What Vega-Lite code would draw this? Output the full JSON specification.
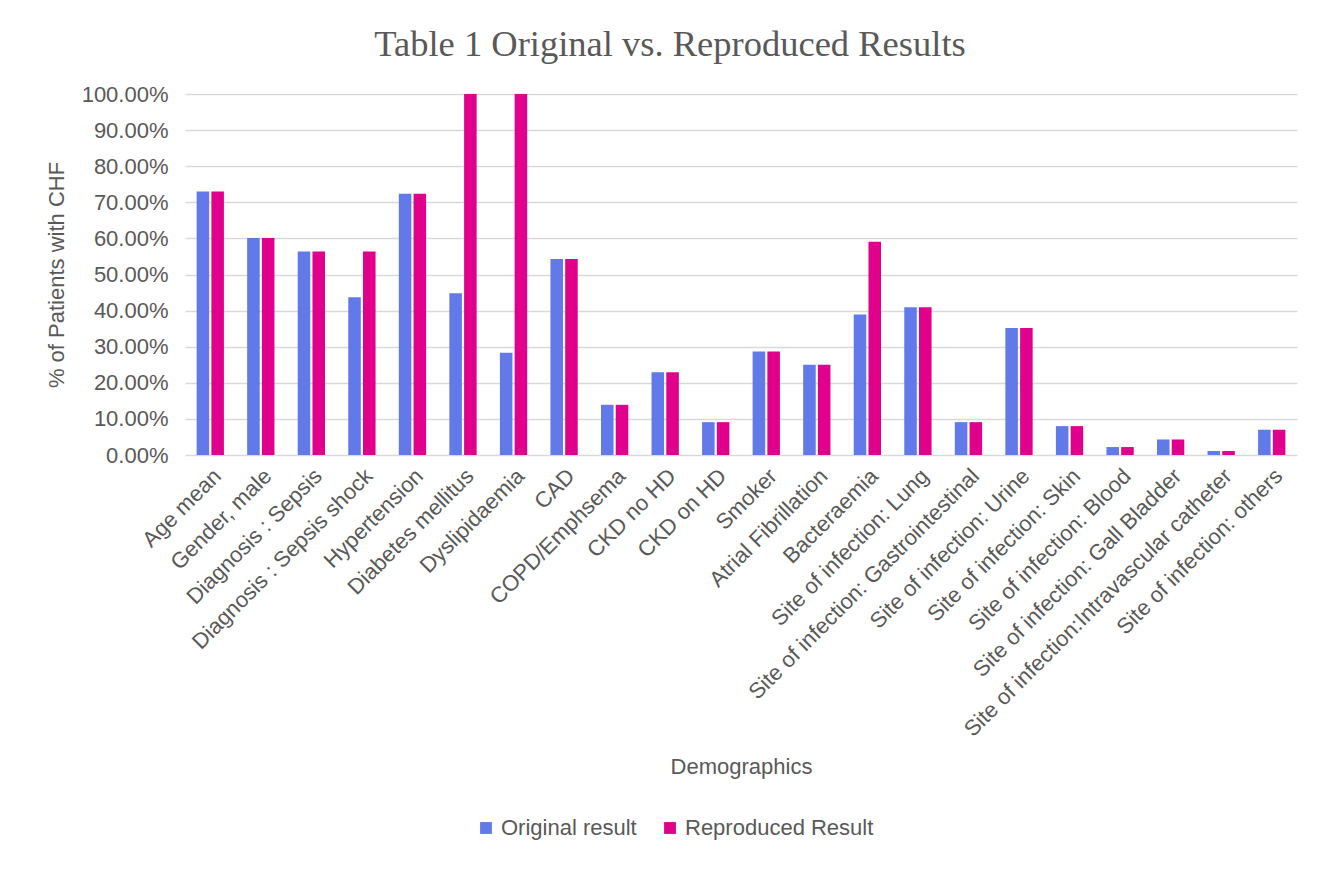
{
  "$schema": "https://vega.github.io/schema/vega-lite/v6.json",
  "width": 1112,
  "height": 361,
  "autosize": "none",
  "padding": {"left": 185, "top": 94, "right": 30, "bottom": 414},
  "background": "white",
  "title": {
    "text": "Table 1 Original vs. Reproduced Results",
    "font": "Liberation Serif",
    "fontSize": 36.5,
    "fontWeight": "normal",
    "color": "#595959",
    "anchor": "middle",
    "dx": -71,
    "offset": 20
  },
  "data": {
    "values": [
      {"category": "Age mean", "series": "Original result", "value": 0.73},
      {"category": "Age mean", "series": "Reproduced Result", "value": 0.73},
      {"category": "Gender, male", "series": "Original result", "value": 0.601},
      {"category": "Gender, male", "series": "Reproduced Result", "value": 0.601},
      {"category": "Diagnosis : Sepsis", "series": "Original result", "value": 0.564},
      {"category": "Diagnosis : Sepsis", "series": "Reproduced Result", "value": 0.564},
      {"category": "Diagnosis : Sepsis shock", "series": "Original result", "value": 0.437},
      {"category": "Diagnosis : Sepsis shock", "series": "Reproduced Result", "value": 0.564},
      {"category": "Hypertension", "series": "Original result", "value": 0.724},
      {"category": "Hypertension", "series": "Reproduced Result", "value": 0.724},
      {"category": "Diabetes mellitus", "series": "Original result", "value": 0.448},
      {"category": "Diabetes mellitus", "series": "Reproduced Result", "value": 1.0},
      {"category": "Dyslipidaemia", "series": "Original result", "value": 0.283},
      {"category": "Dyslipidaemia", "series": "Reproduced Result", "value": 1.0},
      {"category": "CAD", "series": "Original result", "value": 0.543},
      {"category": "CAD", "series": "Reproduced Result", "value": 0.543},
      {"category": "COPD/Emphsema", "series": "Original result", "value": 0.139},
      {"category": "COPD/Emphsema", "series": "Reproduced Result", "value": 0.139},
      {"category": "CKD no HD", "series": "Original result", "value": 0.229},
      {"category": "CKD no HD", "series": "Reproduced Result", "value": 0.229},
      {"category": "CKD on HD", "series": "Original result", "value": 0.091},
      {"category": "CKD on HD", "series": "Reproduced Result", "value": 0.091},
      {"category": "Smoker", "series": "Original result", "value": 0.287},
      {"category": "Smoker", "series": "Reproduced Result", "value": 0.287},
      {"category": "Atrial Fibrillation", "series": "Original result", "value": 0.25},
      {"category": "Atrial Fibrillation", "series": "Reproduced Result", "value": 0.25},
      {"category": "Bacteraemia", "series": "Original result", "value": 0.389},
      {"category": "Bacteraemia", "series": "Reproduced Result", "value": 0.591},
      {"category": "Site of infection: Lung", "series": "Original result", "value": 0.409},
      {"category": "Site of infection: Lung", "series": "Reproduced Result", "value": 0.409},
      {"category": "Site of infection: Gastrointestinal", "series": "Original result", "value": 0.091},
      {"category": "Site of infection: Gastrointestinal", "series": "Reproduced Result", "value": 0.091},
      {"category": "Site of infection: Urine", "series": "Original result", "value": 0.352},
      {"category": "Site of infection: Urine", "series": "Reproduced Result", "value": 0.352},
      {"category": "Site of infection: Skin", "series": "Original result", "value": 0.08},
      {"category": "Site of infection: Skin", "series": "Reproduced Result", "value": 0.08},
      {"category": "Site of infection: Blood", "series": "Original result", "value": 0.022},
      {"category": "Site of infection: Blood", "series": "Reproduced Result", "value": 0.022},
      {"category": "Site of infection: Gall Bladder", "series": "Original result", "value": 0.043},
      {"category": "Site of infection: Gall Bladder", "series": "Reproduced Result", "value": 0.043},
      {"category": "Site of infection:Intravascular catheter", "series": "Original result", "value": 0.011},
      {"category": "Site of infection:Intravascular catheter", "series": "Reproduced Result", "value": 0.011},
      {"category": "Site of infection: others", "series": "Original result", "value": 0.07},
      {"category": "Site of infection: others", "series": "Reproduced Result", "value": 0.07}
    ]
  },
  "mark": {"type": "bar"},
  "encoding": {
    "x": {
      "field": "category",
      "type": "nominal",
      "sort": null,
      "scale": {"paddingInner": 0.46, "paddingOuter": 0.23},
      "axis": {
        "title": "Demographics",
        "labelAngle": -45,
        "labelFont": "Liberation Sans",
        "labelFontSize": 22,
        "labelColor": "#595959",
        "labelPadding": 10,
        "labelDx": 8,
        "labelLimit": 600,
        "labelOverlap": false,
        "ticks": false,
        "domain": false,
        "titleFont": "Liberation Sans",
        "titleFontSize": 22,
        "titleFontWeight": "normal",
        "titleColor": "#595959",
        "titleY": 311,
        "titleBaseline": "middle"
      }
    },
    "xOffset": {
      "field": "series",
      "type": "nominal",
      "scale": {"paddingInner": 0.15}
    },
    "y": {
      "field": "value",
      "type": "quantitative",
      "scale": {"domain": [0, 1]},
      "axis": {
        "title": "% of Patients with CHF",
        "format": ".2%",
        "values": [0, 0.1, 0.2, 0.3, 0.4, 0.5, 0.6, 0.7, 0.8, 0.9, 1.0],
        "labelOverlap": false,
        "labelFont": "Liberation Sans",
        "labelFontSize": 22,
        "labelColor": "#595959",
        "labelPadding": 17,
        "ticks": false,
        "domain": false,
        "gridColor": "#d9d9d9",
        "gridWidth": 1.5,
        "titleFont": "Liberation Sans",
        "titleFontSize": 22,
        "titleFontWeight": "normal",
        "titleColor": "#595959",
        "titlePadding": 13
      }
    },
    "color": {
      "field": "series",
      "type": "nominal",
      "scale": {
        "domain": ["Original result", "Reproduced Result"],
        "range": ["#6279E9", "#E0008B"]
      },
      "legend": {
        "title": null,
        "orient": "none",
        "direction": "horizontal",
        "legendX": 290,
        "legendY": 723,
        "symbolType": "square",
        "symbolSize": 140,
        "symbolStrokeWidth": 0,
        "labelFont": "Liberation Sans",
        "labelFontSize": 22,
        "labelColor": "#595959",
        "labelLimit": 400,
        "labelOffset": 4,
        "columnPadding": 22
      }
    }
  },
  "config": {
    "view": {"stroke": null}
  }
}
